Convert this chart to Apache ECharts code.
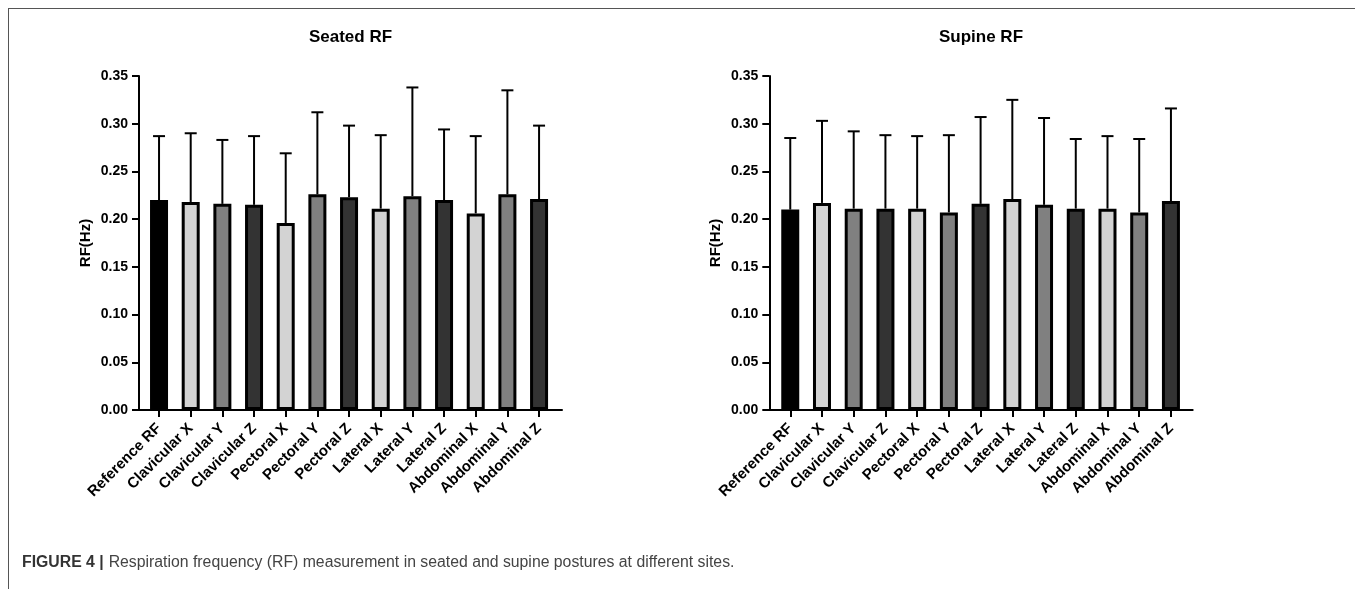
<!DOCTYPE html>
<html>
<head>
<meta charset="utf-8">
<script src="https://cdn.jsdelivr.net/npm/echarts@6/dist/echarts.min.js"></script>
<style>
  html, body { margin: 0; padding: 0; background: #fff; }
  #chart { position: absolute; left: 0; top: 0; width: 1355px; height: 589px; }
  #frame { position: absolute; left: 8px; top: 8px; right: 0; bottom: 0; border-top: 1px solid #555; border-left: 1px solid #555; pointer-events: none; }
</style>
</head>
<body>
<div id="chart"></div>
<div id="frame"></div>
<script>
// ---- data ----
const categories = ['Reference RF', 'Clavicular X', 'Clavicular Y', 'Clavicular Z', 'Pectoral X', 'Pectoral Y', 'Pectoral Z', 'Lateral X', 'Lateral Y', 'Lateral Z', 'Abdominal X', 'Abdominal Y', 'Abdominal Z'];
const seatedMean = [0.220, 0.218, 0.216, 0.215, 0.196, 0.226, 0.223, 0.211, 0.224, 0.220, 0.206, 0.226, 0.221];
const seatedTop  = [0.287, 0.290, 0.283, 0.287, 0.269, 0.312, 0.298, 0.288, 0.338, 0.294, 0.287, 0.335, 0.298];
const supineMean = [0.210, 0.217, 0.211, 0.211, 0.211, 0.207, 0.216, 0.221, 0.215, 0.211, 0.211, 0.207, 0.219];
const supineTop  = [0.285, 0.303, 0.292, 0.288, 0.287, 0.288, 0.307, 0.325, 0.306, 0.284, 0.287, 0.284, 0.316];
const yTicks = [0, 0.05, 0.10, 0.15, 0.20, 0.25, 0.30, 0.35];
const titles = ['Seated RF', 'Supine RF'];
const yName = 'RF(Hz)';
const caption = 'Respiration frequency (RF) measurement in seated and supine postures at different sites.';
const captionLead = 'FIGURE 4 |';

// ---- styles ----
const FONT = 'Liberation Sans, Arial, sans-serif';
function fillFor(cat) {
  if (cat === 'Reference RF') return '#000000';
  const s = cat.slice(-1);
  if (s === 'X') return '#d3d3d3';
  if (s === 'Y') return '#808080';
  return '#333333';
}

const panels = [
  { mean: seatedMean, top: seatedTop, axisLeft: 139, axisWidth: 423, barLeft: 143.2, barWidth: 411.7, title: titles[0] },
  { mean: supineMean, top: supineTop, axisLeft: 769.3, axisWidth: 423.4, barLeft: 774.4, barWidth: 412.4, title: titles[1] }
];
const GTOP = 76, GH = 334;

const grid = [], xAxis = [], yAxis = [], series = [], title = [];
panels.forEach((p, k) => {
  const ga = grid.length;
  grid.push({ left: p.axisLeft, top: GTOP, width: p.axisWidth, height: GH, containLabel: false });
  grid.push({ left: p.barLeft, top: GTOP, width: p.barWidth, height: GH, containLabel: false });
  // axis-line grid
  xAxis.push({ gridIndex: ga, type: 'value', min: 0, max: 1, axisLine: { show: true, lineStyle: { color: '#000', width: 2 } }, axisTick: { show: false }, axisLabel: { show: false }, splitLine: { show: false } });
  yAxis.push({ gridIndex: ga, type: 'value', min: yTicks[0], max: yTicks[yTicks.length - 1], interval: yTicks[1] - yTicks[0],
    axisLine: { show: true, lineStyle: { color: '#000', width: 2 } },
    axisTick: { show: true, length: 7, lineStyle: { color: '#000', width: 2 } },
    axisLabel: { margin: 11, color: '#000', fontFamily: FONT, fontWeight: 'bold', fontSize: 14, formatter: v => v.toFixed(2) },
    splitLine: { show: false },
    name: yName, nameLocation: 'middle', nameGap: 46, nameRotate: 90,
    nameTextStyle: { color: '#000', fontFamily: FONT, fontWeight: 'bold', fontSize: 15 }
  });
  // bar grid
  xAxis.push({ gridIndex: ga + 1, type: 'category', data: categories,
    axisLine: { show: false },
    axisTick: { show: true, alignWithLabel: true, length: 7, lineStyle: { color: '#000', width: 2 } },
    axisLabel: { rotate: 45, margin: 16, interval: 0, color: '#000', fontFamily: FONT, fontWeight: 'bold', fontSize: 15 }
  });
  yAxis.push({ gridIndex: ga + 1, type: 'value', min: yTicks[0], max: yTicks[yTicks.length - 1], show: false });
  series.push({
    type: 'custom', xAxisIndex: ga + 1, yAxisIndex: ga + 1, z: 1,
    data: categories.map((c, i) => [i, p.mean[i], p.top[i]]),
    encode: { x: 0, y: [1, 2] },
    renderItem: function (params, api) {
      const i = api.value(0);
      const a = api.coord([i, api.value(1)]);
      const b = api.coord([i, api.value(2)]);
      const st = { stroke: '#000', lineWidth: 2 };
      return { type: 'group', children: [
        { type: 'line', shape: { x1: a[0], y1: a[1], x2: b[0], y2: b[1] }, style: st },
        { type: 'line', shape: { x1: b[0] - 6, y1: b[1], x2: b[0] + 6, y2: b[1] }, style: st }
      ] };
    }
  });
  series.push({
    type: 'bar', xAxisIndex: ga + 1, yAxisIndex: ga + 1, z: 2, barWidth: 18,
    data: p.mean.map((v, i) => ({ value: v, itemStyle: { color: fillFor(categories[i]), borderColor: '#000', borderWidth: 3 } }))
  });
  title.push({ text: p.title, left: p.axisLeft + p.axisWidth / 2, top: 29, padding: 0, textAlign: 'center',
    textStyle: { color: '#000', fontFamily: FONT, fontWeight: 'bold', fontSize: 17 } });
});
title.push({
  text: '{b|' + captionLead + '} {n|' + caption + '}', left: 22, top: 554, padding: 0,
  textStyle: { rich: {
    b: { fontFamily: FONT, fontWeight: 'bold', fontSize: 15.8, color: '#333' },
    n: { fontFamily: FONT, fontWeight: 'normal', fontSize: 15.8, color: '#444' }
  } }
});

const chart = echarts.init(document.getElementById('chart'), null, { renderer: 'canvas' });
chart.setOption({ backgroundColor: '#fff', animation: false, title, grid, xAxis, yAxis, series });
</script>
</body>
</html>
